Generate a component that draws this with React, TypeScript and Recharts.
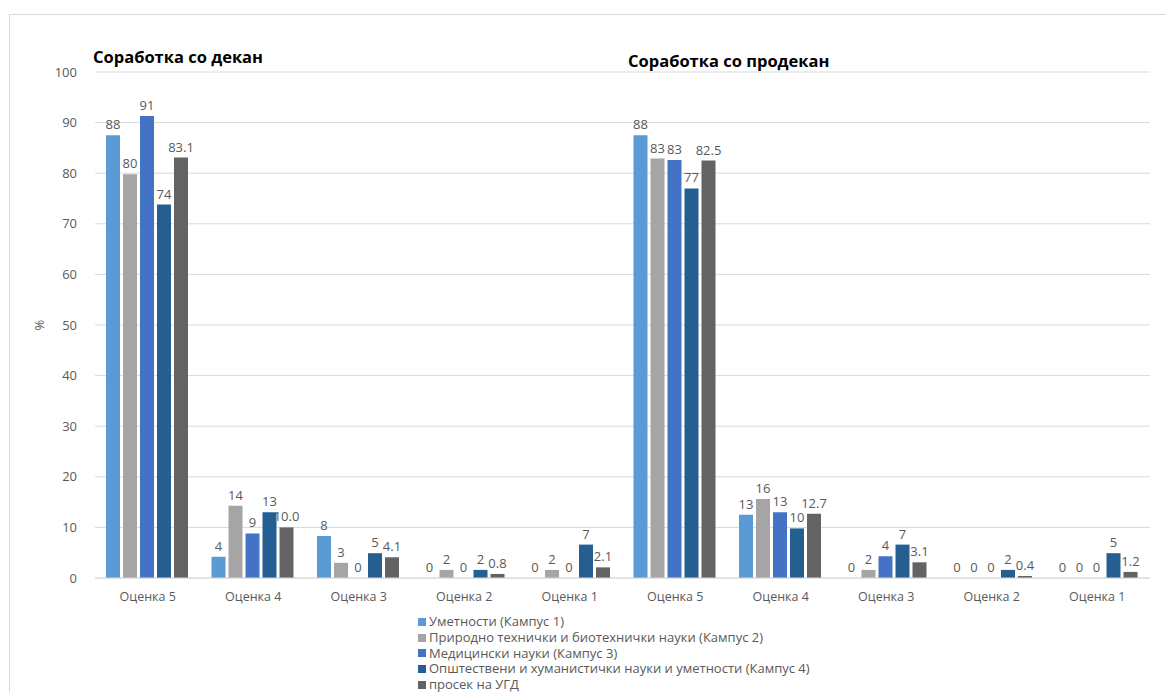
import { BarChart, Bar, XAxis, YAxis, CartesianGrid, LabelList } from 'recharts'

const categories = [
  'Оценка 5', 'Оценка 4', 'Оценка 3', 'Оценка 2', 'Оценка 1',
  'Оценка 5', 'Оценка 4', 'Оценка 3', 'Оценка 2', 'Оценка 1',
]

// first five = декан, last five = продекан
const kampus1 = [87.5, 4.2, 8.3, 0, 0, 87.5, 12.5, 0, 0, 0]
const kampus2 = [79.8, 14.3, 3.0, 1.6, 1.6, 82.9, 15.6, 1.6, 0, 0]
const kampus3 = [91.3, 8.8, 0, 0, 0, 82.6, 13.0, 4.3, 0, 0]
const kampus4 = [73.8, 13.0, 4.9, 1.6, 6.6, 77.0, 9.8, 6.6, 1.6, 4.9]
const prosek = [83.1, 10.0, 4.1, 0.8, 2.1, 82.5, 12.7, 3.1, 0.4, 1.2]

const yTicks = [0, 10, 20, 30, 40, 50, 60, 70, 80, 90, 100]

const series = [
  { key: 'k1', name: 'Уметности (Кампус 1)', color: '#5B9BD5', decimals: 0 },
  { key: 'k2', name: 'Природно технички и биотехнички науки (Кампус 2)', color: '#A5A5A5', decimals: 0 },
  { key: 'k3', name: 'Медицински науки (Кампус 3)', color: '#4472C4', decimals: 0 },
  { key: 'k4', name: 'Општествени и хуманистички науки и уметности (Кампус 4)', color: '#255E91', decimals: 0 },
  { key: 'avg', name: 'просек на УГД', color: '#636363', decimals: 1 },
]

const data = categories.map((name, i) => ({
  id: i,
  name,
  k1: kampus1[i],
  k2: kampus2[i],
  k3: kampus3[i],
  k4: kampus4[i],
  avg: prosek[i],
}))

const font = '"Open Sans", "Noto Sans", sans-serif'
const textColor = '#595959'

// draws the value label above the bar, also when the bar has no height
const makeLabel = (decimals: number) => (props: any) => {
  const { x, y, width, height, value } = props
  const top = Math.min(Number(y), Number(y) + Number(height || 0))
  return (
    <text
      x={Number(x) + Number(width) / 2}
      y={top - 6}
      textAnchor="middle"
      fill={textColor}
      fontSize={13}
      fontFamily={font}
    >
      {Number(value).toFixed(decimals)}
    </text>
  )
}

export default function App() {
  return (
    <div style={{ position: 'relative', width: 1174, height: 700, margin: -8, overflow: 'hidden', fontFamily: font, background: '#fff' }}>
      <div style={{ position: 'absolute', left: 9, top: 14, width: 1200, height: 720, border: '1px solid #d9d9d9' }} />
      <div style={{ position: 'absolute', left: 93, top: 45, fontSize: 16.5, fontWeight: 700, color: '#000' }}>Соработка со декан</div>
      <div style={{ position: 'absolute', left: 628, top: 49, fontSize: 16.5, fontWeight: 700, color: '#000' }}>Соработка со продекан</div>
      <div style={{ position: 'absolute', left: 34, top: 316, fontSize: 13, color: textColor, transform: 'rotate(-90deg)' }}>%</div>
      <div style={{ position: 'absolute', left: 0, top: 0 }}>
        <BarChart
          width={1174}
          height={700}
          data={data}
          margin={{ top: 72, right: 24, left: 35, bottom: 92 }}
          barCategoryGap={11}
          barGap={3}
        >
          <CartesianGrid vertical={false} stroke="#d9d9d9" />
          <XAxis
            dataKey="id"
            tickFormatter={(v: number) => categories[v]}
            tickLine={false}
            axisLine={{ stroke: '#d9d9d9' }}
            tick={{ fill: textColor, fontSize: 12.5, fontFamily: font }}
            tickMargin={8}
            height={30}
            interval={0}
          />
          <YAxis
            domain={[0, 100]}
            ticks={yTicks}
            tickLine={false}
            axisLine={false}
            tick={{ fill: textColor, fontSize: 13, fontFamily: font }}
            tickMargin={12}
            width={60}
          />
          {series.map((s) => (
            <Bar key={s.key} dataKey={s.key} name={s.name} fill={s.color} isAnimationActive={false} minPointSize={0.01}>
              <LabelList dataKey={s.key} content={makeLabel(s.decimals)} />
            </Bar>
          ))}
        </BarChart>
      </div>
      <div style={{ position: 'absolute', left: 418, top: 614, fontSize: 13, color: textColor, lineHeight: '15.8px' }}>
        {series.map((s) => (
          <div key={s.key} style={{ display: 'flex', alignItems: 'center', whiteSpace: 'nowrap' }}>
            <span style={{ display: 'inline-block', width: 8, height: 8, background: s.color, marginRight: 3 }} />
            {s.name}
          </div>
        ))}
      </div>
    </div>
  )
}
